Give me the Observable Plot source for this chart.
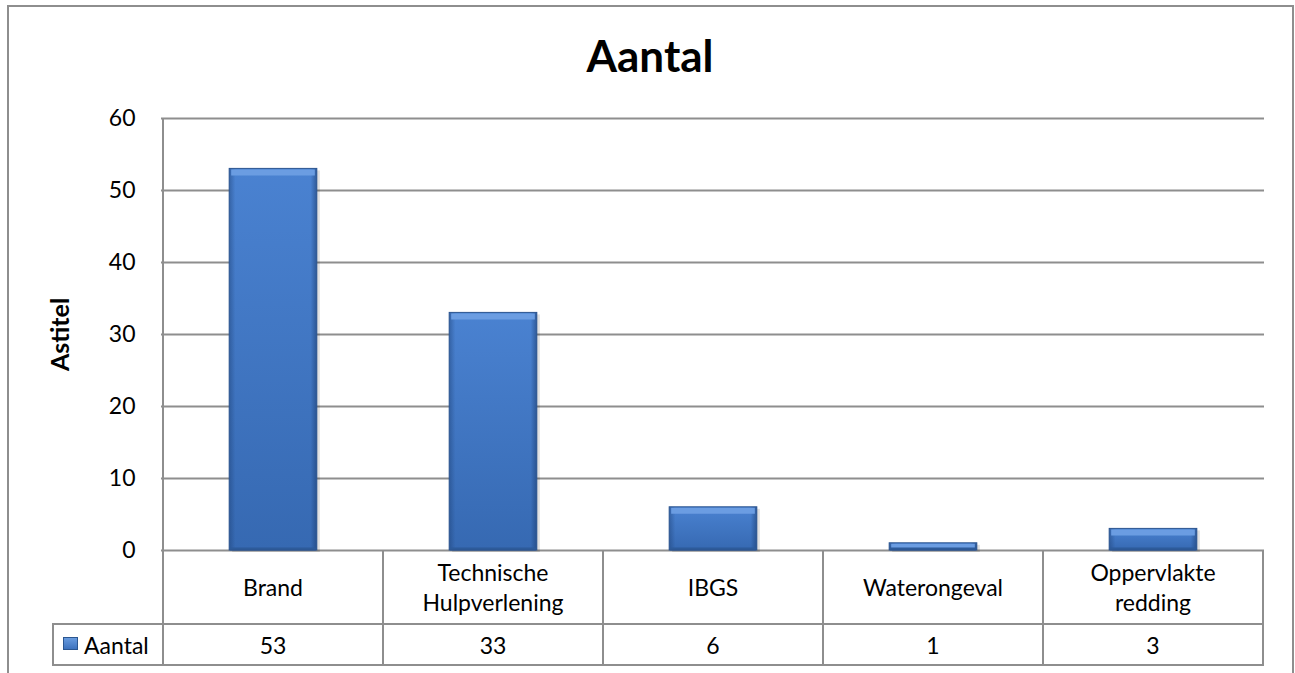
<!DOCTYPE html>
<html><head><meta charset="utf-8">
<script src="https://cdn.jsdelivr.net/npm/d3@7"></script>
<script src="https://cdn.jsdelivr.net/npm/@observablehq/plot@0.6"></script>
<style>
body{margin:0;background:#fff;font-family:Lato,"Noto Sans",sans-serif;color:#000;}
#wrap{position:relative;width:1295px;height:673px;overflow:hidden;background:#fff;}
#frame{position:absolute;left:7px;top:5px;width:1287px;height:740px;border:2px solid #8e8e8e;box-sizing:border-box;}
#title{position:absolute;left:8px;width:1284px;top:33px;text-align:center;font-weight:700;font-size:44px;line-height:44px;}
#chart{position:absolute;left:0;top:0;}
.ln{position:absolute;background:#8e8e8e;}
.cell{position:absolute;display:flex;align-items:center;justify-content:center;text-align:center;font-size:23px;line-height:30px;}
#key{position:absolute;width:15px;height:13px;background:linear-gradient(180deg,#6c9fe2,#3a6fbb);box-shadow:inset 0 0 0 1px #2b5690;}
</style></head>
<body>
<div id="wrap"><div id="frame"></div><div id="title"></div><div id="chart"></div></div>
<script>
const categories = ["Brand", "Technische Hulpverlening", "IBGS", "Waterongeval", "Oppervlakte redding"];
const categoryLabels = ["Brand", "Technische\nHulpverlening", "IBGS", "Waterongeval", "Oppervlakte\nredding"];
const values = [53, 33, 6, 1, 3];
const seriesName = "Aantal";
const chartTitle = "Aantal";
const yTitle = "Astitel";
const yTicks = [0, 10, 20, 30, 40, 50, 60];

const W = 1295, H = 673, mL = 161, mR = 31, mT = 118, mB = 123;
const step = (W - mL - mR) / categories.length;
const inset = step * 0.3;
const data = categories.map((c, i) => ({c, v: values[i]}));

function gradDefs() {
  const ns = "http://www.w3.org/2000/svg";
  const d = document.createElementNS(ns, "defs");
  d.innerHTML = `
  <linearGradient id="barV" x1="0" y1="0" x2="0" y2="1">
    <stop offset="0" stop-color="#4a82d1"/><stop offset="1" stop-color="#3669b2"/></linearGradient>
  <linearGradient id="barH" x1="0" y1="0" x2="1" y2="0">
    <stop offset="0" stop-color="#1d3f73" stop-opacity="0.45"/>
    <stop offset="0.07" stop-color="#1d3f73" stop-opacity="0"/>
    <stop offset="0.93" stop-color="#1d3f73" stop-opacity="0"/>
    <stop offset="1" stop-color="#1d3f73" stop-opacity="0.6"/></linearGradient>`;
  return d;
}

const plot = Plot.plot({
  width: W, height: H,
  marginLeft: mL, marginRight: mR, marginTop: mT, marginBottom: mB,
  style: {fontFamily: "Lato, 'Noto Sans', sans-serif", fontSize: "23px", color: "#000", background: "transparent", overflow: "visible"},
  x: {domain: categories, padding: 0, axis: null},
  y: {domain: [0, 60], ticks: yTicks, tickSize: 0, tickPadding: 26, label: null, tickFormat: d => String(d)},
  marks: [
    gradDefs,
    Plot.ruleY(yTicks, {stroke: "#8e8e8e", strokeWidth: 2}),
    Plot.barY(data, {x: "c", y: "v", insetLeft: inset, insetRight: inset, dx: 3, dy: 2, fill: "#000", fillOpacity: 0.12}),
    Plot.barY(data, {x: "c", y: "v", insetLeft: inset, insetRight: inset, fill: "url(#barV)"}),
    Plot.barY(data, {x: "c", y: "v", insetLeft: inset, insetRight: inset, fill: "url(#barH)"}),
    Plot.tickY(data, {x: "c", y: "v", insetLeft: inset + 2, insetRight: inset + 2, dy: 3.5, strokeWidth: 6, stroke: "#6b9de2"}),
    Plot.tickY(data, {x: "c", y: () => 0, insetLeft: inset + 1, insetRight: inset + 1, dy: -1.5, strokeWidth: 3, stroke: "#2d5b9a"}),
    Plot.barY(data, {x: "c", y: "v", insetLeft: inset, insetRight: inset, fill: "none", stroke: "#2c5590", strokeWidth: 1}),
    Plot.text([yTitle], {frameAnchor: "left", dx: -101, rotate: -90, textAnchor: "middle", fontWeight: "bold", fontSize: 25, text: d => d})
  ]
});
document.getElementById("chart").appendChild(plot);
document.getElementById("title").textContent = chartTitle;

const wrap = document.getElementById("wrap");
const xs = plot.scale("x");
const bw = xs.bandwidth;
const yTop = mT, y0 = H - mB, rowMid = 624, rowEnd = 665, legendLeft = 53;
function line(x, y, w, h) {
  const e = document.createElement("div");
  e.className = "ln";
  Object.assign(e.style, {left: x + "px", top: y + "px", width: w + "px", height: h + "px"});
  wrap.appendChild(e);
}
function cell(x, y, w, h, txt) {
  const e = document.createElement("div");
  e.className = "cell";
  Object.assign(e.style, {left: x + "px", top: y + "px", width: w + "px", height: h + "px"});
  e.innerHTML = txt;
  wrap.appendChild(e);
}
const x0s = categories.map(c => xs.apply(c));
const xEnd = x0s[x0s.length - 1] + bw;
line(x0s[0] - 1, yTop, 2, rowEnd - yTop + 1);
x0s.slice(1).concat([xEnd]).forEach(x => line(x - 1, y0, 2, rowEnd - y0 + 1));
line(legendLeft - 1, rowMid - 1, xEnd - legendLeft + 2, 2);
line(legendLeft - 1, rowEnd - 1, xEnd - legendLeft + 2, 2);
line(legendLeft - 1, rowMid - 1, 2, rowEnd - rowMid + 1);
categories.forEach((c, i) => {
  cell(x0s[i], y0, bw, rowMid - y0, categoryLabels[i].replace("\n", "<br>"));
  cell(x0s[i], rowMid, bw, rowEnd - rowMid, String(values[i]));
});
const k = document.createElement("div");
k.id = "key";
Object.assign(k.style, {left: (legendLeft + 10) + "px", top: (rowMid + 13) + "px"});
wrap.appendChild(k);
const lt = document.createElement("div");
lt.className = "cell";
Object.assign(lt.style, {left: (legendLeft + 31) + "px", top: rowMid + "px", height: (rowEnd - rowMid) + "px", justifyContent: "flex-start"});
lt.textContent = seriesName;
wrap.appendChild(lt);
</script>
</body></html>
